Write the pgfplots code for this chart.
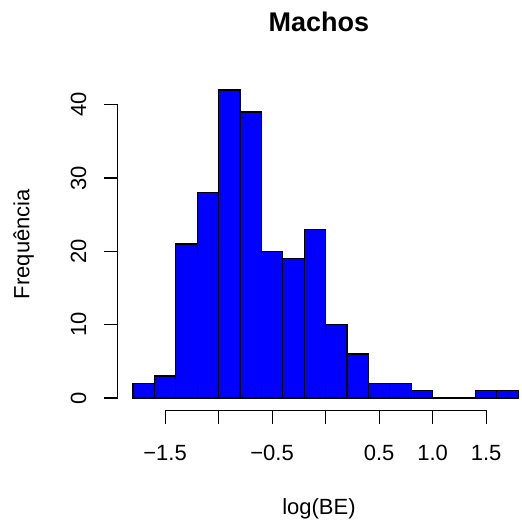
\documentclass[border=0pt]{standalone}
\usepackage{pgfplots}
\pgfplotsset{compat=1.18}
\usepackage{fontspec}
\setmainfont{Liberation Sans}

% histogram of log(BE), bins of width 0.2 (left edges; last row closes the interval)
\begin{document}
\begin{tikzpicture}
\useasboundingbox (0pt,0pt) rectangle (521pt,529pt);
\begin{axis}[
    at={(117.6pt,118.7pt)},
    anchor=south west,
    scale only axis,
    width=402.7pt,
    height=332.6pt,
    xmin=-1.944, xmax=1.82,
    ymin=-1.68, ymax=43.68,
    axis lines=none,
    clip=false,
    font=\fontsize{22}{25}\selectfont,
]
\addplot[ybar interval, fill=blue, draw=black, line width=1.1pt] coordinates {
    (-1.8,2) (-1.6,3) (-1.4,21) (-1.2,28) (-1.0,42) (-0.8,39)
    (-0.6,20) (-0.4,19) (-0.2,23) (0.0,10) (0.2,6) (0.4,2)
    (0.6,2) (0.8,1) (1.0,0) (1.2,0) (1.4,1) (1.6,1) (1.8,1)
};

% x axis, R style
\draw[line width=1.1pt] (axis cs:-1.5,-1.68) -- (axis cs:1.5,-1.68);
\pgfplotsinvokeforeach{-1.5,-1.0,-0.5,0,0.5,1.0,1.5}{
    \draw[line width=1.1pt] (axis cs:#1,-1.68) -- ([yshift=-13.5pt]axis cs:#1,-1.68);
}
\node at ([yshift=-43pt]axis cs:-1.5,-1.68) {−1.5};
\node at ([yshift=-43pt]axis cs:-0.5,-1.68) {−0.5};
\node at ([yshift=-43pt]axis cs:0.5,-1.68) {0.5};
\node at ([yshift=-43pt]axis cs:1.0,-1.68) {1.0};
\node at ([yshift=-43pt]axis cs:1.5,-1.68) {1.5};

% y axis, R style
\draw[line width=1.1pt] (axis cs:-1.944,0) -- (axis cs:-1.944,40);
\pgfplotsinvokeforeach{0,10,20,30,40}{
    \draw[line width=1.1pt] (axis cs:-1.944,#1) -- ([xshift=-13.5pt]axis cs:-1.944,#1);
    \node[rotate=90,anchor=center] at ([xshift=-39pt]axis cs:-1.944,#1) {#1};
}

% titles
\node[font=\fontsize{27}{30}\selectfont\bfseries] at ([yshift=56pt]rel axis cs:0.5,1) {Machos};
\node at ([yshift=-99pt]rel axis cs:0.5,0) {log(BE)};
\node[rotate=90] at ([xshift=-94pt]rel axis cs:0,0.5) {Frequência};
\end{axis}
\end{tikzpicture}
\end{document}
